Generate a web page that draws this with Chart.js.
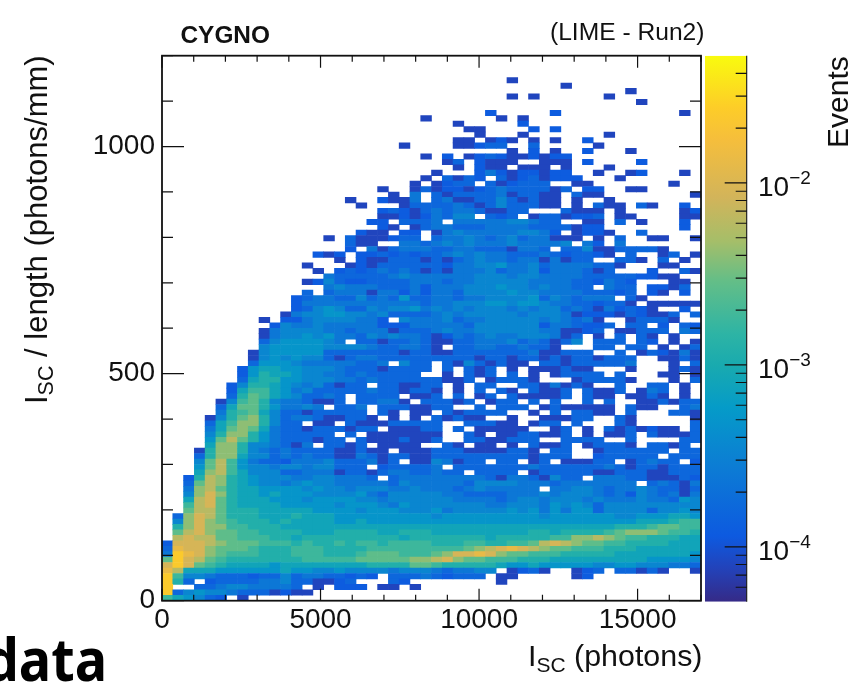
<!DOCTYPE html>
<html>
<head>
<meta charset="utf-8">
<title>CYGNO LIME Run2</title>
<script src="https://cdn.jsdelivr.net/npm/chart.js@4"></script>
<style>
    html, body { margin: 0; padding: 0; background: #fff; overflow: hidden; }
    #plot { position: absolute; left: 0; top: 0; }
    #zbar { position: absolute; left: 700px; top: 0; }
</style>
</head>
<body>
<canvas id="plot" width="849" height="687"></canvas>
<canvas id="zbar" width="149" height="687"></canvas>
<script>
// Histogram binning: 50 x bins over 0-17000, 100 y bins over 0-1200
const xMax = 17000;
const yMax = 1200;
const xBinWidth = 340;
const yBinWidth = 12;

const levelKeys = "123456789abcdef";
const levelValues = [8e-5, 1.2e-4, 1.6e-4, 2.4e-4, 3.5e-4, 5e-4, 8e-4, 1.2e-3, 1.8e-3,
                     2.7e-3, 4e-3, 6e-3, 9e-3, 1.3e-2, 2.4e-2];

// Top row first (y bin 95) down to y bin 0, 50 columns, "." is an empty bin
const cellRows = [
    ".......... .......... .......... ..1....... ..........",
    ".......... .......... .......... .......1.. ..........",
    ".......... .......... .......... .......... ...1......",
    ".......... .......... .......... ..1.1..... .1........",
    ".......... .......... .......... .......... ....1.....",
    "",
    ".......... .......... .......... 2.....2... ........1.",
    ".......... .......... ....1..... .1.1...... ..........",
    ".......... .......... .......1.. ...2...... ..........",
    ".......... .......... ........11 ....2.2... ..........",
    ".......... .......... .........1 ...1...... .1........",
    ".......... .......... .......11. 121.1.1..2 ..........",
    ".......... .......... ..1....112 33..3..... 1.........",
    ".......... .......... .......... ..1.2.1..2 ...1......",
    ".......... .......... ....1.2.12 32112122.. ..........",
    ".......... .......... ......13.2 111..111.2 ....2.....",
    ".......... .......... .......1.2 11.111.1.. .1........",
    ".......... .......... .....1...2 42122122.. 1..12...1.",
    ".......... .......... ....1.3132 .31231222. ..1.......",
    ".......... .......... ...1.1233. 312333..11 .......1..",
    ".......... .......... 1..1312212 34333313.2 2..11.....",
    ".......... .......... .1.4.31333 3413311.31 1........1",
    ".......... .......1.. 2114.34113 3531311.1. .1........",
    ".......... ........1. ..13333431 3533311.1. 311.31..2.",
    ".......... .......... 2321343443 1133...311 1.1.....12",
    ".......... .......... 112124355. 323.133122 3.11....11",
    ".......... .........2 2.3334.444 4455433..1 1.3.1...2.",
    ".......... .......... 21.1344333 4444333312 2.......2.",
    ".......... ........21 1.22.14544 4445542.12 21..3.....",
    ".......... .....1.311 1233.34454 345344111. 1.3..11..1",
    ".......... .......311 ..44345454 44544445.4 2.4.......",
    ".......... .......2.4 1344433443 331443.335 1133331...",
    ".......... ....212.22 3232334545 4433343233 21.3..13.1",
    ".......... ......1.21 1333131345 4434414133 ..331.3.1.",
    ".......... ...1...121 3333332445 5644534444 331...11..",
    ".......... ....1.2323 4343131444 5344524443 13...2..31",
    ".......... .....43333 3454444445 5545544443 33332211..",
    ".......... ...1253223 3334443445 5555444433 2432...11.",
    ".......... .....45444 3334244455 5655454433 .433.2213.",
    ".......... ...3.34441 4424244355 5565544443 3323.21.2.",
    ".......... ..23443353 4363344344 5555635434 44.31.....",
    ".......... ..24444444 4444344555 6656654433 2331.11111",
    ".......... ..23565335 4556454545 5545455343 142321..2.",
    ".......... .145566554 5333345455 5554555412 22132113.3",
    ".........1 .224555544 2.54445344 5555545434 1..13331..",
    ".......... 2544544444 2224444435 5555524432 23.33.2.32",
    ".........1 4555544344 4133345445 5555544112 3.11333.43",
    ".........1 4556564435 4544312434 544555413. 1.3.31.1..",
    ".........3 5666654.33 1334311334 445343135. 333.32.1.1",
    ".........5 6666655554 334431.334 4334331... 33.33.1.13",
    "........15 6666633333 3313311333 3333411333 ..3.132141",
    "........15 6565531344 3333333331 3313313133 1333..1131",
    "........36 6654444433 4.533.3153 1311.33133 3334...1.3",
    ".......267 7665554333 13333.3.31 3.1.111311 ...1...131",
    ".......268 7765544343 3333..1.31 3.3.1.1333 3.3...11.1",
    ".......378 8665554434 333333113. 13331...13 3331...1.3",
    "......2588 765453133. 331133.1.3 3..3314131 ..3..33.1.",
    "......2799 7645333334 331331.1.3 .31.3113.3 113.143.1.",
    "......38a9 7653343.33 33.113.3.1 3.311113.3 11.1131.1.",
    ".....159a8 5443113.33 441.33313. 133.3.3..3 .3..113133",
    ".....37aa8 64454.334. 3331133..3 .333.13111 11.311..34",
    ".....489a7 533133333. 31.11.3133 33..1.3.33 11.3...331",
    "....158ab8 5344311331 .1.1.31311 ..1..11133 ..31.....1",
    "....379bb8 533.11.311 133333..33 311.133.3. ..31.....3",
    "....47aba7 4331333133 .11133.3.1 1111..13.1 .3131211.3",
    "....58bb86 433333.3.1 111111..31 .1133113.1 .113.31113",
    "....6aca86 4333133.31 113113..33 11333..333 3..3....33",
    "....7bb855 4314.3313. 1111..31.1 1.1.3113.1 3331.3313.",
    "...18bb854 3433331131 1.11133311 11331.33.. 1333333.33",
    "...38bb755 3434331143 1331133333 33331333.. 233333.333",
    "...5ac9643 3244453334 13.1154133 .33.13.111 33.13433.2",
    "...6ac9655 455455333. 233334.333 3333433333 3431331333",
    "...7bc9755 5334441331 34433433.3 333.133333 1133311333",
    "..28cb8765 5544554443 .344444444 314431533. 4443311132",
    "..3acb8765 5456554444 4354444435 5554443444 4444.34314",
    "..4bca8776 6665655455 5445444345 44444.4455 4344543313",
    "..5bdb8776 7666555564 3555554433 3344454555 4342543414",
    "..7cda8777 6665666655 4555555444 4345545554 5444544365",
    "..9cda8777 7666665666 5465555555 4455546565 3555555555",
    "..acca8887 7777666656 6655564555 5565646466 3555535565",
    ".3bdca8887 7787776666 6666656666 6666656666 6655666776",
    ".5bdba9888 7877776676 6666666666 6666666666 6666777899",
    ".8bdbb9988 8777777777 7777777777 7777777777 778889aa99",
    ".acdbaa998 8887778888 7788877777 7777887888 89abbba998",
    ".cdccaa999 8878888888 8878888888 78888899bb cba9988877",
    "2dddcbaaa9 9989889899 8999988899 8899acdcba a998888777",
    "3eddbaaa98 8899988889 99999999ab cdedcbaa99 9888777777",
    "4fedba9998 889998889a aa999abdde dbaa999888 8877777776",
    "afdca98888 88899999aa aaabbcdbaa 9998887777 7777766665",
    "dfda987777 6777777778 888aa98888 8766766666 5566555443",
    "ec77766666 6766556555 5455543445 5.1231..12 3.33131..1",
    "f955433323 3534433232 .333432333 .11.....12 ..........",
    "f83.233334 45331123.. .32....... .1........ ..........",
    "f..3345544 443.1.222. 11.1...... .......... ..........",
    "f356554333 1211...... .......... .......... ..........",
    "976532.1.. .......... .......... .......... .........."
];

// Axis ticks
const xTickValues = [0, 5000, 10000, 15000];
const yTickValues = [0, 500, 1000];
const xMajorStep = 5000;
const xMinorStep = 1000;
const yMajorStep = 500;
const yMinorStep = 100;
const zMin = 5e-5;
const zMax = 5e-2;
const zLabelled = [1e-2, 1e-3, 1e-4];
const zLabels = ["\u22122", "\u22123", "\u22124"];
const zMinorTicks = [4e-2, 3e-2, 2e-2,
                     9e-3, 8e-3, 7e-3, 6e-3, 5e-3, 4e-3, 3e-3, 2e-3,
                     9e-4, 8e-4, 7e-4, 6e-4, 5e-4, 4e-4, 3e-4, 2e-4,
                     9e-5, 8e-5, 7e-5, 6e-5];

// Palette positions along the colour bar (0 bottom, 1 top)
const paletteStops = [0, 0.06, 0.12, 0.25, 0.355, 0.433, 0.49, 0.588, 0.66, 0.74, 0.845, 0.905, 1];
const paletteColors = [
    [53, 42, 135], [35, 66, 185], [13, 90, 224], [12, 125, 212], [5, 155, 200], [25, 170, 175],
    [45, 180, 165], [100, 190, 135], [165, 190, 105], [210, 180, 90], [245, 190, 60],
    [253, 205, 40], [249, 251, 14]
];

const fontFamily = "'Liberation Sans', Arial, sans-serif";

function colorFor(value) {
    const t = (Math.log10(value) - Math.log10(zMin)) / (Math.log10(zMax) - Math.log10(zMin));
    let i = 0;
    while (i < paletteStops.length - 2 && t > paletteStops[i + 1]) i++;
    const f = (t - paletteStops[i]) / (paletteStops[i + 1] - paletteStops[i]);
    const a = paletteColors[i], b = paletteColors[i + 1];
    return "rgb(" + a.map(function(c, k) { return Math.round(c + (b[k] - c) * f); }).join(",") + ")";
}

// Turn the rows into floating bars
const cellData = [];
const cellColors = [];
cellRows.forEach(function(row, rowIndex) {
    const yBin = cellRows.length - 1 - rowIndex;
    row.replace(/ /g, "").split("").forEach(function(key, xBin) {
        const level = levelKeys.indexOf(key);
        if (level < 0) return;
        cellData.push({
            x: (xBin + 0.5) * xBinWidth,
            y: [yBin * yBinWidth, (yBin + 1) * yBinWidth]
        });
        cellColors.push(colorFor(levelValues[level]));
    });
});

// Text with a lowered or raised part: parts are [text, size, shift]
function drawParts(ctx, parts, x, y, family) {
    let pos = x;
    ctx.textAlign = "left";
    ctx.textBaseline = "alphabetic";
    parts.forEach(function(p) {
        ctx.font = p[1] + "px " + (family || fontFamily);
        ctx.fillText(p[0], pos, y + p[2]);
        pos += ctx.measureText(p[0]).width;
    });
}

const framePlugin = {
    id: "rootFrame",
    afterDraw: function(chart) {
        const ctx = chart.ctx;
        const a = chart.chartArea;
        const xs = chart.scales.x;
        const ys = chart.scales.y;
        ctx.save();
        ctx.strokeStyle = "#111";
        ctx.fillStyle = "#111";

        // ROOT style inward ticks on all four sides
        ctx.lineWidth = 1.2;
        ctx.beginPath();
        for (let v = 0; v <= xMax; v += xMinorStep) {
            const px = xs.getPixelForValue(v);
            const len = v % xMajorStep === 0 ? 12 : 6;
            ctx.moveTo(px, a.bottom); ctx.lineTo(px, a.bottom - len);
            ctx.moveTo(px, a.top); ctx.lineTo(px, a.top + len);
        }
        for (let v = 0; v <= yMax; v += yMinorStep) {
            const py = ys.getPixelForValue(v);
            const len = v % yMajorStep === 0 ? 22 : 11;
            ctx.moveTo(a.left, py); ctx.lineTo(a.left + len, py);
            ctx.moveTo(a.right, py); ctx.lineTo(a.right - len, py);
        }
        ctx.stroke();

        ctx.lineWidth = 1.8;
        ctx.strokeRect(a.left, a.top, a.right - a.left, a.bottom - a.top);

        // Header and axis titles
        ctx.fillStyle = "#111";
        ctx.textBaseline = "alphabetic";
        ctx.textAlign = "left";
        ctx.font = "bold 24.4px " + fontFamily;
        ctx.fillText("CYGNO", 180.5, 43);
        ctx.font = "24.6px " + fontFamily;
        ctx.fillText("(LIME - Run2)", 550, 40);

        drawParts(ctx, [["I", 30.4, 0], ["SC", 21, 6], [" (photons)", 30.4, 0]], 528, 666);

        ctx.save();
        ctx.translate(47, 404);
        ctx.rotate(-Math.PI / 2);
        drawParts(ctx, [["I", 31, 0], ["SC", 21.5, 6], [" / length (photons/mm)", 31, 0]], 0, 0);
        ctx.restore();

        // Large word cut off by the left page edge, narrower than the stock face
        ctx.save();
        ctx.fillStyle = "#000";
        ctx.translate(107, 681);
        ctx.scale(0.9, 1);
        ctx.textAlign = "right";
        ctx.font = "bold 60px 'Noto Sans', sans-serif";
        ctx.fillText("data", 0, 0);
        ctx.restore();
        ctx.restore();
    }
};

new Chart(document.getElementById("plot").getContext("2d"), {
    type: "bar",
    data: {
        datasets: [{
            label: "Events",
            data: cellData,
            backgroundColor: cellColors,
            barThickness: 10.8,
            borderWidth: 0,
            inflateAmount: 0.3
        }]
    },
    options: {
        responsive: false,
        animation: false,
        layout: { padding: { left: 0, right: 148, top: 55.7, bottom: 0 } },
        scales: {
            x: {
                type: "linear",
                offset: false,
                min: 0,
                max: xMax,
                afterFit: function(scale) { scale.height = 86.3; },
                afterBuildTicks: function(scale) {
                    scale.ticks = xTickValues.map(function(v) { return { value: v }; });
                },
                border: { display: false },
                grid: { display: false },
                ticks: {
                    autoSkip: false,
                    maxRotation: 0,
                    padding: -5,
                    color: "#111",
                    font: { family: fontFamily, size: 28 },
                    callback: function(value) { return String(value); }
                }
            },
            y: {
                type: "linear",
                min: 0,
                max: yMax,
                afterFit: function(scale) { scale.width = 162; },
                afterBuildTicks: function(scale) {
                    scale.ticks = yTickValues.map(function(v) { return { value: v }; });
                },
                border: { display: false },
                grid: { display: false },
                ticks: {
                    autoSkip: false,
                    padding: -1,
                    color: "#111",
                    font: { family: fontFamily, size: 28 },
                    callback: function(value) { return String(value); }
                }
            }
        },
        plugins: {
            legend: { display: false },
            tooltip: { enabled: false }
        }
    },
    plugins: [framePlugin]
});

// Colour bar, its own small chart on a log axis
const zbarPlugin = {
    id: "zbarAxis",
    afterDraw: function(chart) {
        const ctx = chart.ctx;
        const a = chart.chartArea;
        const zs = chart.scales.y;
        ctx.save();
        ctx.strokeStyle = "#111";
        ctx.fillStyle = "#111";
        ctx.lineWidth = 1.1;
        ctx.beginPath();
        zMinorTicks.forEach(function(v) {
            const py = zs.getPixelForValue(v);
            ctx.moveTo(a.right, py); ctx.lineTo(a.right - 11, py);
        });
        zLabelled.forEach(function(v) {
            const py = zs.getPixelForValue(v);
            ctx.moveTo(a.right, py); ctx.lineTo(a.right - 22, py);
        });
        ctx.moveTo(a.right, a.top); ctx.lineTo(a.right, a.bottom);
        ctx.stroke();

        zLabelled.forEach(function(v, i) {
            const py = zs.getPixelForValue(v);
            drawParts(ctx, [["10", 28, 0], [zLabels[i], 19, -12]], 58, py + 13.5);
        });

        ctx.save();
        ctx.translate(148, 148);
        ctx.rotate(-Math.PI / 2);
        ctx.textAlign = "left";
        ctx.textBaseline = "alphabetic";
        ctx.font = "30px " + fontFamily;
        ctx.fillText("Events", 0, 0);
        ctx.restore();
        ctx.restore();
    }
};

new Chart(document.getElementById("zbar").getContext("2d"), {
    type: "bar",
    data: {
        labels: ["Events"],
        datasets: [{
            data: [[zMin, zMax]],
            barPercentage: 1,
            categoryPercentage: 1,
            borderWidth: 0,
            inflateAmount: 0,
            backgroundColor: function(context) {
                const area = context.chart.chartArea;
                if (!area) return "#000";
                const g = context.chart.ctx.createLinearGradient(0, area.bottom, 0, area.top);
                paletteStops.forEach(function(stop, i) {
                    g.addColorStop(stop, "rgb(" + paletteColors[i].join(",") + ")");
                });
                return g;
            }
        }]
    },
    options: {
        responsive: false,
        animation: false,
        layout: { padding: { left: 5, right: 102.3, top: 55.7, bottom: 85.3 } },
        scales: {
            x: { display: false },
            y: { display: false, type: "logarithmic", min: zMin, max: zMax }
        },
        plugins: {
            legend: { display: false },
            tooltip: { enabled: false }
        }
    },
    plugins: [zbarPlugin]
});
</script>
</body>
</html>
